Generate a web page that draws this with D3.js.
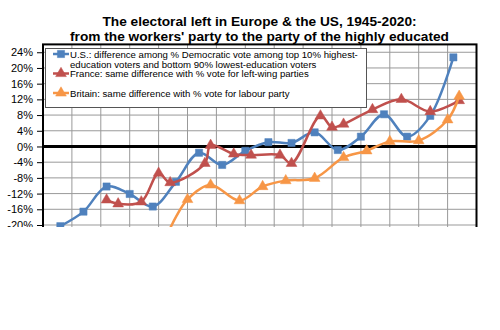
<!DOCTYPE html>
<html>
<head>
<meta charset="utf-8">
<script src="https://cdn.jsdelivr.net/npm/d3@7"></script>
<style>
  body { margin: 0; background: #fff; }
  svg { display: block; font-family: "Liberation Sans", Arial, sans-serif; }
</style>
</head>
<body>
<div id="chart"></div>
<script>
/* Data */
const usYears = [1948, 1952, 1956, 1960, 1964, 1968, 1972, 1976, 1980, 1984, 1988, 1992, 1996, 2000, 2004, 2008, 2012, 2016];
const usValues = [-20.3, -16.6, -10.2, -12.1, -15.3, -9.0, -1.6, -4.7, -1.1, 1.1, 0.9, 3.6, -0.9, 2.5, 8.2, 2.5, 7.8, 22.7];

const frYears = [1956, 1958, 1962, 1965, 1967, 1973, 1974, 1978, 1981, 1986, 1988, 1993, 1995, 1997, 2002, 2007, 2012, 2017];
const frValues = [-13.6, -14.6, -14.1, -6.8, -9.2, -4.3, 0.3, -1.9, -2.2, -2.2, -4.3, 7.8, 4.9, 5.7, 9.4, 12.0, 8.9, 11.7];

const ukYears = [1964, 1966, 1970, 1974, 1979, 1983, 1987, 1992, 1997, 2001, 2005, 2010, 2015, 2017];
const ukValues = [-28, -23.5, -13.5, -9.8, -13.8, -10.2, -8.7, -8.1, -2.8, -1.1, 1.3, 1.5, 6.8, 12.8];

const yTicks = [-20, -16, -12, -8, -4, 0, 4, 8, 12, 16, 20, 24];

const titleLines = [
    "The electoral left in Europe & the US, 1945-2020:",
    "from the workers' party to the party of the highly educated"
];

const legendItems = [
    { lines: ["U.S.: difference among % Democratic vote among top 10% highest-",
              "education voters and bottom 90% lowest-education voters"], color: "#4F81BD", marker: "square" },
    { lines: ["France: same difference with % vote for left-wing parties"], color: "#C0504D", marker: "triangle" },
    { lines: ["Britain: same difference with % vote for labour party"], color: "#F79646", marker: "triangle" }
];

/* Layout */
const W = 500, H = 227;
const plot = { left: 43, right: 476.5, top: 44.4, bottom: 260 };

const svg = d3.select("#chart").append("svg")
    .attr("width", W)
    .attr("height", H);

const x = d3.scaleLinear().domain([1945, 2020]).range([plot.left, plot.right]);
const y = d3.scaleLinear().domain([-20, 26]).range([225, 44.4]);

/* Title */
svg.selectAll(".title")
    .data(titleLines)
    .join("text")
    .attr("x", 259.5)
    .attr("y", (d, i) => 26 + i * 15)
    .attr("text-anchor", "middle")
    .style("font-size", "13.7px")
    .style("font-weight", "bold")
    .text(d => d);

/* Gridlines */
const xGrid = d3.range(1950, 2020, 5);
svg.append("g")
    .selectAll("line")
    .data(xGrid)
    .join("line")
    .attr("x1", d => x(d)).attr("x2", d => x(d))
    .attr("y1", plot.top).attr("y2", plot.bottom)
    .style("stroke", "#999")
    .style("stroke-width", 1);

svg.append("g")
    .selectAll("line")
    .data(yTicks.filter(d => d !== 0))
    .join("line")
    .attr("x1", plot.left).attr("x2", plot.right)
    .attr("y1", d => y(d)).attr("y2", d => y(d))
    .style("stroke", "#999")
    .style("stroke-width", 1);

/* Y axis */
const yAxis = svg.append("g")
    .attr("transform", `translate(${plot.left},0)`)
    .call(d3.axisLeft(y).tickValues(yTicks).tickSize(6).tickFormat(d => d + "%"));
yAxis.select(".domain").remove();
yAxis.selectAll("line").style("stroke", "#000");
yAxis.selectAll("text")
    .attr("x", -10)
    .style("font-family", "'Liberation Sans', Arial, sans-serif")
    .style("font-size", "11px")
    .style("fill", "#000");

/* Frame and zero line */
svg.append("rect")
    .attr("x", plot.left).attr("y", plot.top)
    .attr("width", plot.right - plot.left)
    .attr("height", plot.bottom - plot.top)
    .style("fill", "none")
    .style("stroke", "#000")
    .style("stroke-width", 2);

svg.append("line")
    .attr("x1", plot.left).attr("x2", plot.right)
    .attr("y1", y(0)).attr("y2", y(0))
    .style("stroke", "#000")
    .style("stroke-width", 3);

/* Series */
const series = [
    { years: usYears, values: usValues, color: "#4F81BD", marker: "square" },
    { years: frYears, values: frValues, color: "#C0504D", marker: "triangle" },
    { years: ukYears, values: ukValues, color: "#F79646", marker: "triangle" }
];

const line = d3.line()
    .x(d => x(d[0]))
    .y(d => y(d[1]))
    .curve(d3.curveCatmullRom.alpha(0.5));

const squareSym = d3.symbol().type(d3.symbolSquare).size(52);
const triSym = d3.symbol().type(d3.symbolTriangle).size(50);

function drawMarker(g, type, color, cx, cy) {
    g.append("path")
        .attr("d", type === "square" ? squareSym() : triSym())
        .attr("transform", `translate(${cx},${cy})`)
        .style("fill", color)
        .style("stroke", color)
        .style("stroke-width", 0.5);
}

series.forEach(s => {
    const pts = s.years.map((yr, i) => [yr, s.values[i]]);
    const g = svg.append("g");
    g.append("path")
        .datum(pts)
        .attr("d", line)
        .style("fill", "none")
        .style("stroke", s.color)
        .style("stroke-width", 2.5);
    pts.forEach(p => drawMarker(g, s.marker, s.color, x(p[0]), y(p[1])));
});

/* Legend */
const leg = svg.append("g");
leg.append("rect")
    .attr("x", 45.5).attr("y", 48.5)
    .attr("width", 321).attr("height", 59)
    .style("fill", "#fff")
    .style("stroke", "#555")
    .style("stroke-width", 1);

const legRows = [54, 73.5, 93];
legendItems.forEach((item, i) => {
    const cy = legRows[i];
    leg.append("line")
        .attr("x1", 53).attr("x2", 69)
        .attr("y1", cy).attr("y2", cy)
        .style("stroke", item.color)
        .style("stroke-width", 2.5);
    drawMarker(leg, item.marker, item.color, 61, cy);
    item.lines.forEach((t, j) => {
        leg.append("text")
            .attr("x", 70)
            .attr("y", cy + 3.5 + j * 10)
            .style("font-size", "9.6px")
            .text(t);
    });
});
</script>
</body>
</html>
